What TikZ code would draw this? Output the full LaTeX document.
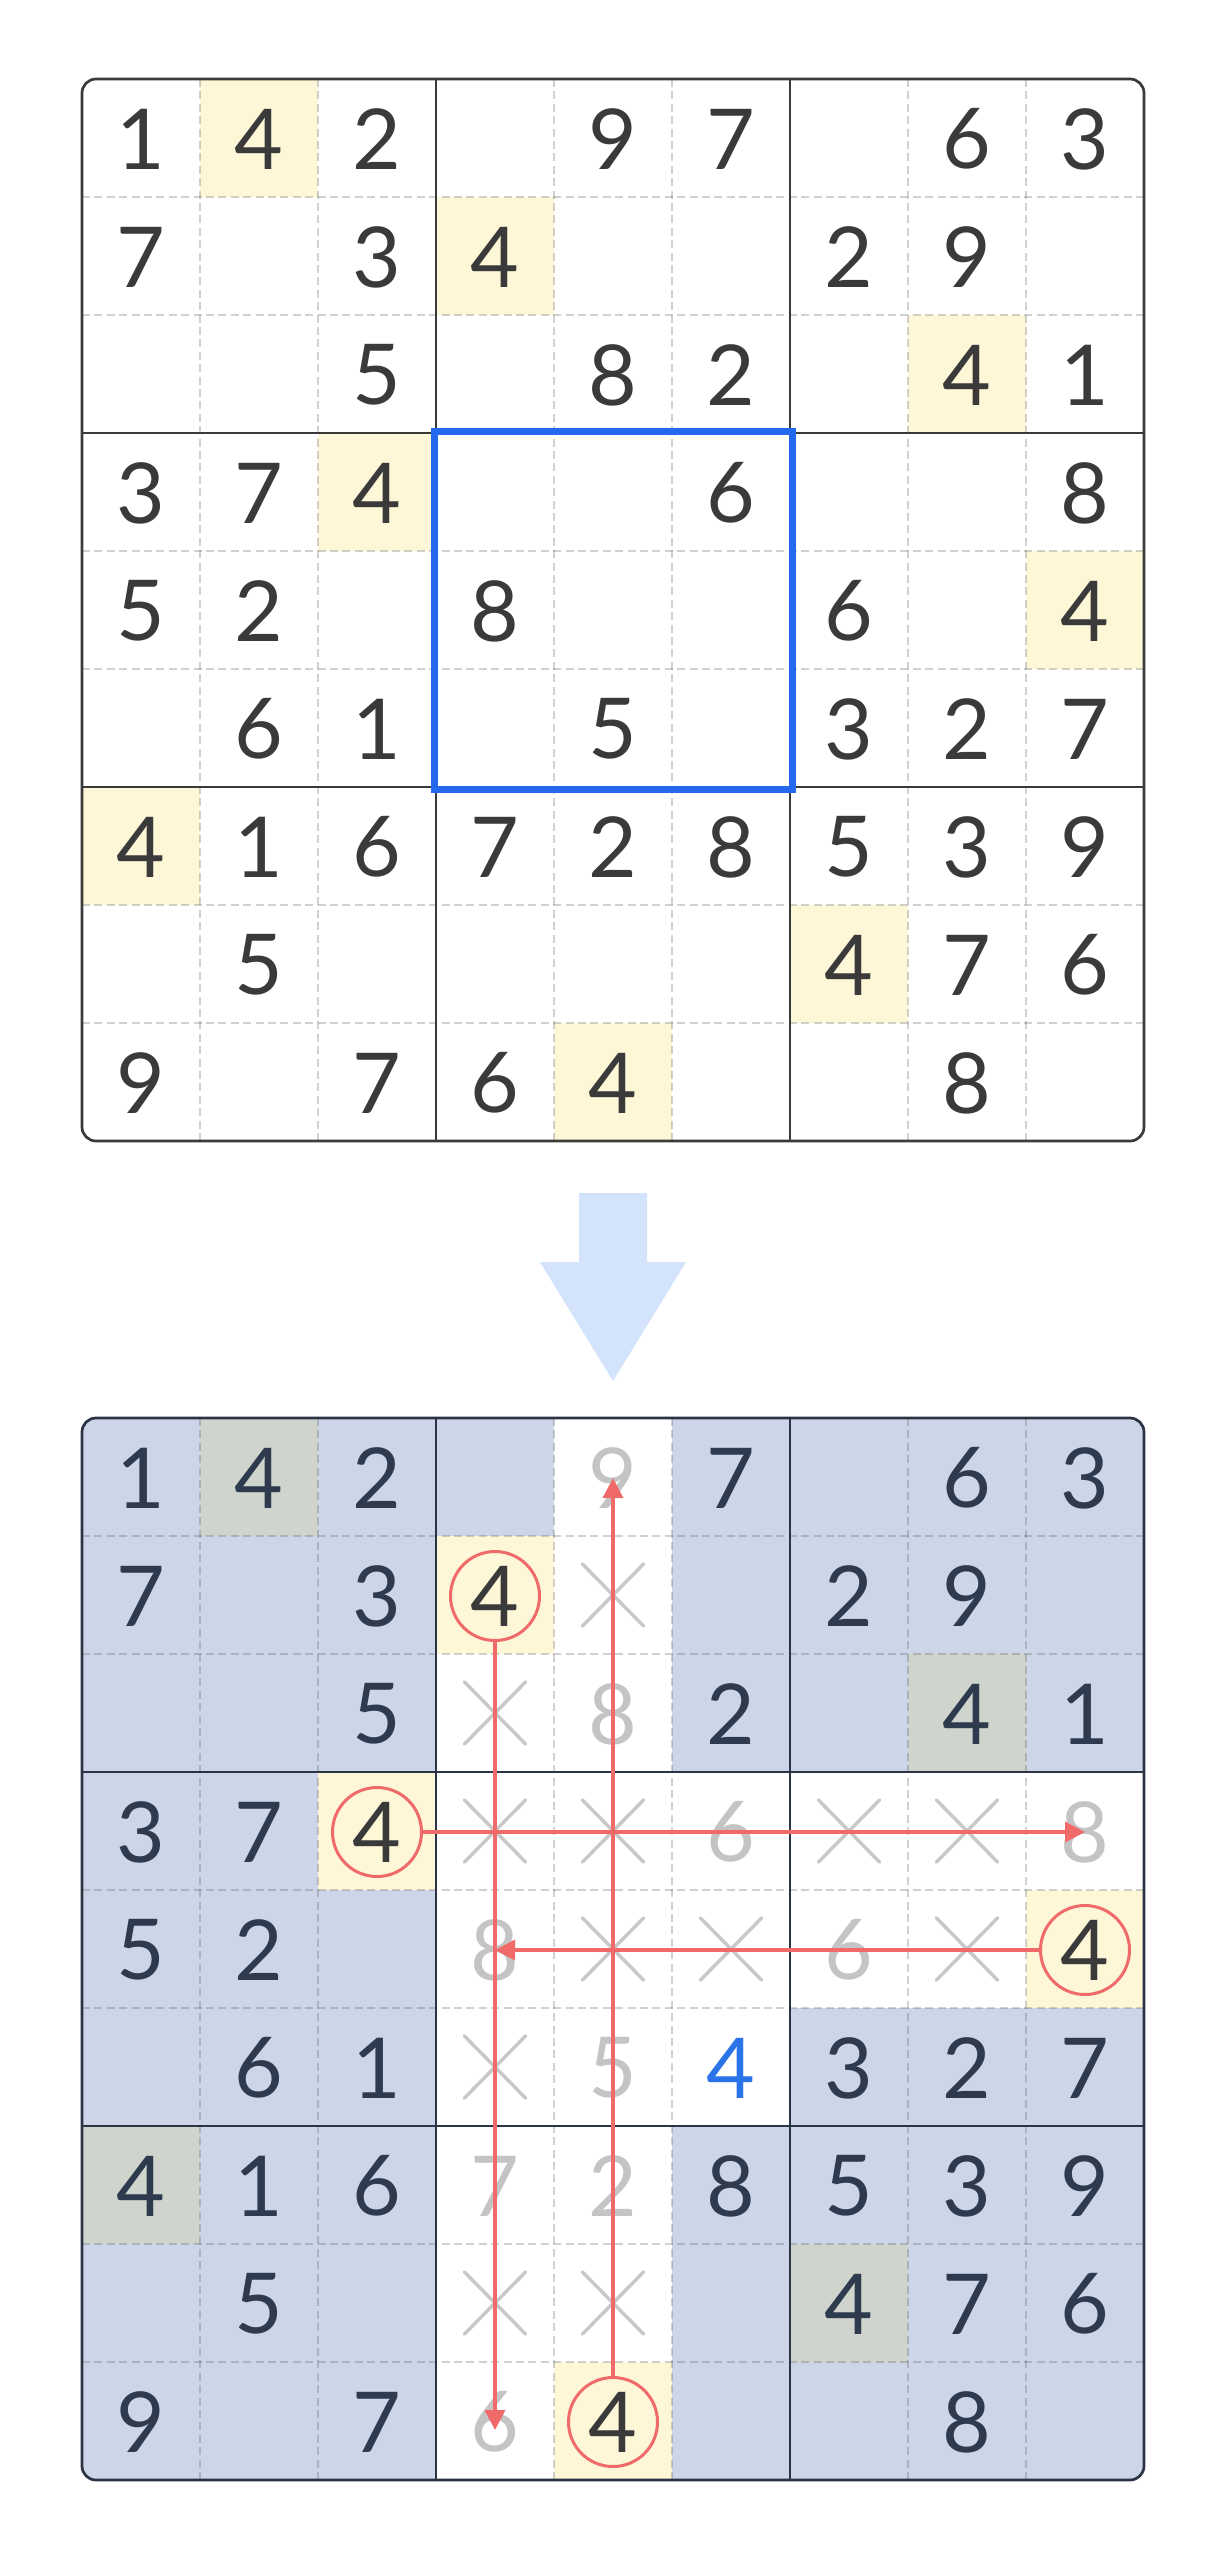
\documentclass[tikz,border=0pt]{standalone}
\usepackage{fontspec}
\setmainfont{Lato}
\newfontfamily\digfont{Lato}
\usetikzlibrary{arrows.meta,shapes.misc}
\definecolor{ink}{HTML}{3A3A3A}
\definecolor{navy}{HTML}{2E3A4E}
\definecolor{hl}{HTML}{FDF7D8}
\definecolor{bgblue}{HTML}{CCD6E8}
\definecolor{ggreen}{HTML}{CFD4CD}
\definecolor{ghost}{HTML}{C4C4C4}
\definecolor{xgray}{HTML}{C8C8C8}
\definecolor{redc}{HTML}{F06A6A}
\definecolor{boxblue}{HTML}{2468EE}
\definecolor{bluefour}{HTML}{2B74E8}
\definecolor{bigarrow}{HTML}{D3E3FB}
\definecolor{dashc}{HTML}{555555}
\definecolor{framea}{HTML}{3A3A3A}
\definecolor{frameb}{HTML}{2B3344}
\begin{document}
\begin{tikzpicture}[x=0.5pt,y=-0.5pt,
  dig/.style={font=\digfont\fontsize{42}{50}\selectfont, inner sep=0pt, yshift=-0.5pt},
  dashline/.style={draw=dashc, draw opacity=0.27, line width=1.3pt, dash pattern=on 4pt off 2.2pt},
  thickline/.style={line width=1.35pt},
  cellB/.style={fill=bgblue},
  cellG/.style={fill=ggreen},
  cellW/.style={fill=white},
  cellY/.style={fill=hl},
  contN/.style={dig, text=navy, node contents={#1}},
  contg/.style={dig, text=ghost, node contents={#1}},
  contB/.style={dig, text=bluefour, node contents={#1}},
  contC/.style={dig, circle, draw=redc, line width=1.5pt, minimum size=44.5pt, text=ink, node contents={#1}},
  contX/.style={cross out, draw=xgray, line width=1.7pt, line cap=round, minimum width=29pt, minimum height=29.5pt, inner sep=0pt, node contents={}},
  redline/.style={draw=redc, line width=1.7pt, -{Triangle[length=10pt,width=10pt]}}
]
\def\gx{82}
\def\gya{79}
\def\gyb{1418}
\def\cellsz{118}
\useasboundingbox (0,0) rectangle (1224,2560);
\fill[white] (0,0) rectangle (1224,2560);

% ---------------- top grid ----------------
\fill[white, rounded corners=7pt] (\gx,\gya) rectangle ++(1062,1062);
\foreach \r/\c in {1/2,2/4,3/8,4/3,5/9,7/1,8/7,9/5}
  \fill[hl] ({\gx+(\c-1)*\cellsz},{\gya+(\r-1)*\cellsz}) rectangle ++(\cellsz,\cellsz);
\foreach \i in {1,2,4,5,7,8}{
  \draw[dashline] ({\gx+\i*\cellsz},\gya) -- ++(0,1062);
  \draw[dashline] (\gx,{\gya+\i*\cellsz}) -- ++(1062,0);
}
\foreach \i in {3,6}{
  \draw[thickline, framea] ({\gx+\i*\cellsz},\gya) -- ++(0,1062);
  \draw[thickline, framea] (\gx,{\gya+\i*\cellsz}) -- ++(1062,0);
}
\draw[thickline, framea, rounded corners=7pt] (\gx,\gya) rectangle ++(1062,1062);
\draw[boxblue, line width=3.5pt] ({\gx+3*\cellsz-2},{\gya+3*\cellsz-2}) rectangle ++(358,358);
\foreach \rowdata [count=\r] in {
  {1,4,2,0,9,7,0,6,3},
  {7,0,3,4,0,0,2,9,0},
  {0,0,5,0,8,2,0,4,1},
  {3,7,4,0,0,6,0,0,8},
  {5,2,0,8,0,0,6,0,4},
  {0,6,1,0,5,0,3,2,7},
  {4,1,6,7,2,8,5,3,9},
  {0,5,0,0,0,0,4,7,6},
  {9,0,7,6,4,0,0,8,0}}{
  \foreach \d [count=\c] in \rowdata {
    \ifnum\d>0
      \node[dig, text=ink] (t-\r-\c) at ({\gx+(\c-0.5)*\cellsz},{\gya+(\r-0.5)*\cellsz}) {\d};
    \fi
  }
}

% ---------------- big arrow ----------------
\fill[bigarrow] (579,1193) -- (647,1193) -- (647,1262) -- (686,1262) -- (613,1381) -- (540,1262) -- (579,1262) -- cycle;

% ---------------- bottom grid ----------------
\begin{scope}
\clip[rounded corners=7pt] (\gx,\gyb) rectangle ++(1062,1062);
\foreach \rowdata [count=\r] in {
  {B,G,B,B,W,B,B,B,B},
  {B,B,B,Y,W,B,B,B,B},
  {B,B,B,W,W,B,B,G,B},
  {B,B,Y,W,W,W,W,W,W},
  {B,B,B,W,W,W,W,W,Y},
  {B,B,B,W,W,W,B,B,B},
  {G,B,B,W,W,B,B,B,B},
  {B,B,B,W,W,B,G,B,B},
  {B,B,B,W,Y,B,B,B,B}}{
  \foreach \k [count=\c] in \rowdata {
    \fill[cell\k] ({\gx+(\c-1)*\cellsz},{\gyb+(\r-1)*\cellsz}) rectangle ++(\cellsz+0.5,\cellsz+0.5);
  }
}
\end{scope}
\foreach \i in {1,2,4,5,7,8}{
  \draw[dashline] ({\gx+\i*\cellsz},\gyb) -- ++(0,1062);
  \draw[dashline] (\gx,{\gyb+\i*\cellsz}) -- ++(1062,0);
}
\foreach \i in {3,6}{
  \draw[thickline, frameb] ({\gx+\i*\cellsz},\gyb) -- ++(0,1062);
  \draw[thickline, frameb] (\gx,{\gyb+\i*\cellsz}) -- ++(1062,0);
}
\draw[thickline, frameb, rounded corners=7pt] (\gx,\gyb) rectangle ++(1062,1062);
\foreach \rowdata [count=\r] in {
  {N/1,N/4,N/2,E/0,g/9,N/7,E/0,N/6,N/3},
  {N/7,E/0,N/3,C/4,X/0,E/0,N/2,N/9,E/0},
  {E/0,E/0,N/5,X/0,g/8,N/2,E/0,N/4,N/1},
  {N/3,N/7,C/4,X/0,X/0,g/6,X/0,X/0,g/8},
  {N/5,N/2,E/0,g/8,X/0,X/0,g/6,X/0,C/4},
  {E/0,N/6,N/1,X/0,g/5,B/4,N/3,N/2,N/7},
  {N/4,N/1,N/6,g/7,g/2,N/8,N/5,N/3,N/9},
  {E/0,N/5,E/0,X/0,X/0,E/0,N/4,N/7,N/6},
  {N/9,E/0,N/7,g/6,C/4,E/0,E/0,N/8,E/0}}{
  \foreach \k/\v [count=\c] in \rowdata {
    \if E\k\else
      \node (b-\r-\c) at ({\gx+(\c-0.5)*\cellsz},{\gyb+(\r-0.5)*\cellsz}) [cont\k=\v];
    \fi
  }
}
\draw[redline] (b-2-4.south) -- ([yshift=-4pt]b-9-4.center);
\draw[redline] (b-9-5.north) -- (b-1-5.center);
\draw[redline] (b-4-3.east) -- (b-4-9.center);
\draw[redline] (b-5-9.west) -- (b-5-4.center);
\end{tikzpicture}
\end{document}
